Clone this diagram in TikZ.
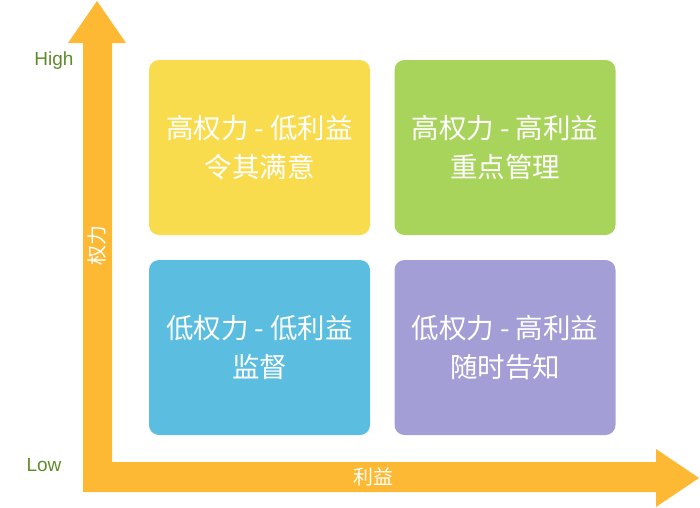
\documentclass[tikz,border=0pt]{standalone}
\usepackage{fontspec}
\setmainfont{Liberation Sans}
\newfontfamily\cjk{Noto Sans CJK SC}
\usetikzlibrary{positioning}
\definecolor{axisorange}{HTML}{FDB933}
\definecolor{boxyellow}{HTML}{F9DC4E}
\definecolor{boxgreen}{HTML}{A8D45C}
\definecolor{boxblue}{HTML}{5BBDE0}
\definecolor{boxpurple}{HTML}{A39ED6}
\definecolor{levelgreen}{HTML}{5F8A2C}
\tikzset{
  quadrant/.style={rounded corners=10pt, minimum width=221pt, minimum height=175pt,
    inner sep=0pt, align=center, text=white, font=\cjk\fontsize{27.5}{39}\selectfont},
  level/.style={text=levelgreen, font=\fontsize{19}{22}\selectfont},
  axislabel/.style={text=white, font=\cjk\fontsize{20}{22}\selectfont}
}

\begin{document}
\begin{tikzpicture}[x=1pt,y=-1pt]
  \useasboundingbox (0,0) rectangle (700,507);

  % axes
  \fill[axisorange] (83,492) -- (83,43) -- (68,43) -- (97,1) -- (126,43) -- (112,43)
    -- (112,462) -- (656,462) -- (656,449) -- (699,478) -- (656,507) -- (656,492) -- cycle;

  % quadrants
  \node[quadrant, fill=boxyellow] (HighLow) at (259.5,147.5) {高权力 - 低利益\\令其满意};
  \node[quadrant, fill=boxgreen] (HighHigh) at (505,147.5) {高权力 - 高利益\\重点管理};
  \node[quadrant, fill=boxblue] (LowLow) at (259.5,347.5) {低权力 - 低利益\\监督};
  \node[quadrant, fill=boxpurple] (LowHigh) at (505,347.5) {低权力 - 高利益\\随时告知};

  % labels
  \node[level] (High) at (54,61) {High};
  \node[level] (Low) at (44,465) {Low};
  \node[axislabel, rotate=90] (Power) at (97,245) {权力};
  \node[axislabel] (Interest) at (373,477) {利益};
\end{tikzpicture}
\end{document}
